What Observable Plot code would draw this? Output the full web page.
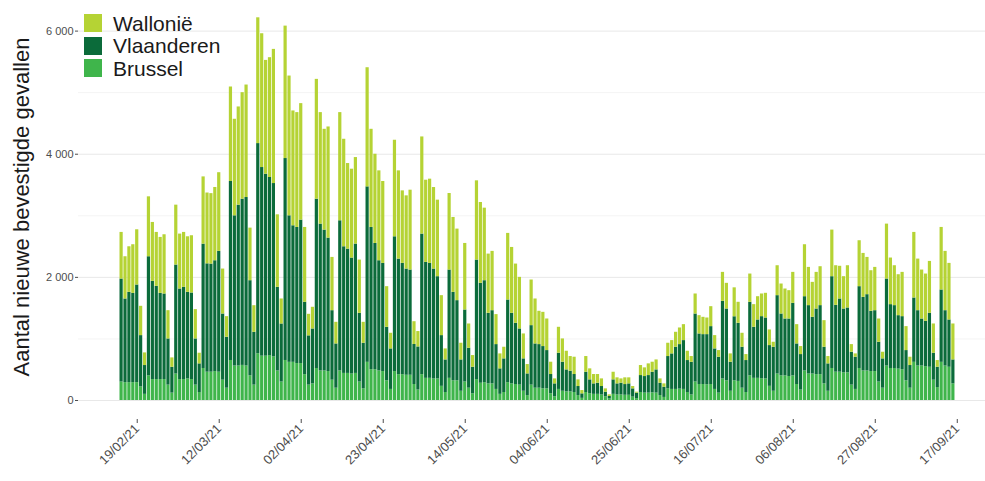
<!DOCTYPE html>
<html><head><meta charset="utf-8">
<script src="https://cdn.jsdelivr.net/npm/d3@7"></script>
<script src="https://cdn.jsdelivr.net/npm/@observablehq/plot@0.6"></script>
<style>
body{margin:0;background:#fff;font-family:"Liberation Sans",Arial,sans-serif;}
#wrap{position:relative;width:985px;height:481px;overflow:hidden;}
#legend{position:absolute;left:84px;top:12px;}
.item{display:flex;align-items:center;height:22.5px;}
.sw{width:18px;height:18px;margin-right:11px;}
.lab{font-size:21px;color:#1a1a1a;line-height:19px;}
</style></head><body><div id="wrap"><div id="legend"></div></div>
<script>
const startDate = "2021-02-15";
const tickLabels = ["19/02/21","12/03/21","02/04/21","23/04/21","14/05/21","04/06/21","25/06/21","16/07/21","06/08/21","27/08/21","17/09/21"];
const regions = ["Wallonië","Vlaanderen","Brussel"];
const colors = ["#b5d334","#0b6b3a","#3fb54b"];
const yTicks = [0,2000,4000,6000];
const yMinor = [1000,3000,5000];
const yTitle = "Aantal nieuwe bevestigde gevallen";

const wallonie = [
757,686,740,790,897,476,205,
973,957,876,909,962,459,152,
973,892,892,902,930,476,173,
1092,1150,1144,1190,1278,730,335,
1535,1568,1595,1730,1827,854,432,
2043,2173,1848,1946,2179,1178,406,
2151,2270,1865,1865,1892,1216,350,
352,1946,1811,1637,1805,865,351,
1757,1746,1390,1443,1405,865,340,
1935,1594,1449,1460,1330,660,254,
1568,1433,1178,1189,1297,370,250,
1578,1335,1368,1324,1243,649,179,
1243,1216,1162,271,1081,394,190,
1287,1313,1178,962,963,487,243,
189,1082,1070,962,838,405,152,
741,730,541,556,513,200,81,
421,378,303,238,281,108,54,
255,179,152,141,124,54,27,
124,98,70,109,98,38,16,
163,141,190,163,162,70,54,
216,216,243,270,259,151,94,
325,297,281,270,324,216,108,
470,417,135,470,341,227,97,
459,368,378,368,401,254,81,
486,487,487,460,503,313,130,
844,621,568,595,632,432,119,
757,644,531,525,686,124,54,
746,713,605,659,703,378,108,
892,757,648,665,719,389,135,
1065,838,795,768,843,475,108,
1016,963,919,584];

const vlaanderen = [
1673,1359,1467,1450,1586,834,468,
1935,1595,1514,1400,1390,750,420,
1770,1471,1498,1407,1406,750,465,
2020,1760,1756,1800,1962,1075,827,
2907,2440,2613,2700,2737,1546,858,
3413,3064,2956,2892,2814,1358,943,
3280,2380,2218,2211,2330,1175,800,
892,2750,2385,2288,2168,1129,719,
2439,2057,2019,1884,2101,1116,740,
2850,2311,2051,1790,1757,869,658,
2189,1877,1807,1725,1709,650,700,
2283,1883,1867,1785,1661,824,529,
1759,1437,1302,509,1170,649,430,
1941,1623,1656,1146,1189,728,414,
546,1342,1146,994,912,526,352,
966,719,708,686,621,312,210,
588,472,357,336,292,147,73,
329,225,170,181,137,75,40,
235,180,191,174,185,134,89,
275,269,285,334,377,201,166,
524,577,685,723,793,519,530,
1105,821,810,815,940,658,583,
1261,1166,472,1040,944,665,519,
1195,829,948,1007,990,662,715,
1273,1005,924,934,1178,659,576,
1206,1111,921,1066,1121,595,445,
1491,1085,1189,1036,1053,534,523,
1329,1196,1239,979,989,646,476,
1413,1037,1021,868,862,491,368,
1045,899,764,736,876,438,331,
1175,899,768,389];

const brussel = [
300,290,290,290,290,220,100,
400,340,340,340,340,250,120,
430,340,340,350,340,250,130,
520,460,460,470,460,330,200,
650,560,560,570,560,400,250,
760,720,720,730,710,480,300,
650,620,620,600,600,420,250,
270,520,480,480,470,330,200,
480,440,440,430,440,300,190,
620,500,500,480,470,320,180,
470,420,420,410,410,260,170,
420,360,360,350,350,230,130,
360,320,320,150,300,200,110,
340,280,290,270,270,180,100,
130,290,270,260,250,150,80,
250,200,200,190,190,110,60,
180,150,140,140,130,80,35,
130,110,100,100,90,60,25,
100,90,90,85,85,55,30,
130,120,120,125,120,80,50,
190,180,180,185,180,130,90,
300,260,260,255,260,180,120,
350,320,150,320,310,200,130,
400,360,360,355,350,230,150,
430,400,400,390,400,260,170,
480,430,430,420,420,270,150,
520,460,460,450,450,250,180,
520,480,480,470,470,300,200,
560,520,520,510,500,320,200,
620,560,560,550,540,330,210,
620,560,540,270];

const parseTick = d3.utcParse("%d/%m/%y");
const fmtTick = d3.utcFormat("%d/%m/%y");
const t0 = d3.utcParse("%Y-%m-%d")(startDate);
const tickDates = tickLabels.map(parseTick);
const domainDates = d3.utcDays(t0, d3.utcDay.offset(tickDates[tickDates.length-1], 1));
const rows = [];
for (let i = 0; i < wallonie.length; i++) {
  const d = domainDates[i];
  rows.push({date: d, region: "Brussel", value: brussel[i]});
  rows.push({date: d, region: "Vlaanderen", value: vlaanderen[i]});
  rows.push({date: d, region: "Wallonië", value: wallonie[i]});
}
const step = 3.905;
const x0 = 119.15;

const chart = Plot.plot({
  width: 985, height: 481,
  marginLeft: 78, marginRight: 0, marginTop: 0, marginBottom: 62,
  style: {fontFamily: "'Liberation Sans', Arial, sans-serif", background: "#fff"},
  x: {type: "band", domain: domainDates, range: [x0, x0 + step * domainDates.length], paddingInner: 0.18, paddingOuter: 0.09},
  y: {domain: [0, 6000], range: [400, 30.6]},
  color: {domain: regions, range: colors},
  marks: [
    Plot.ruleY(yMinor, {stroke: "#f4f4f4", strokeWidth: 1}),
    Plot.ruleY(yTicks, {stroke: "#e8e8e8", strokeWidth: 1}),
    Plot.barY(rows, {x: "date", y: "value", fill: "region"}),
    Plot.axisY({ticks: yTicks, tickFormat: d => d3.format(",")(d).replace(/,/g, " "), tickSize: 3, tickPadding: 2, fontSize: 11, color: "#4d4d4d", label: null}),
    Plot.axisX({ticks: tickDates, tickFormat: fmtTick, tickRotate: -45, tickSize: 4, tickPadding: 3, fontSize: 13, color: "#4d4d4d", label: null}),
    Plot.text([yTitle], {frameAnchor: "left", textAnchor: "middle", rotate: -90, dx: -57, dy: -3, fontSize: 22, fill: "#1a1a1a"})
  ]
});
document.getElementById("wrap").prepend(chart);

const lg = document.getElementById("legend");
regions.forEach((r, i) => {
  const it = document.createElement("div"); it.className = "item";
  const sw = document.createElement("div"); sw.className = "sw"; sw.style.background = colors[i];
  const lb = document.createElement("span"); lb.className = "lab"; lb.textContent = r;
  it.append(sw, lb); lg.append(it);
});
</script></body></html>
